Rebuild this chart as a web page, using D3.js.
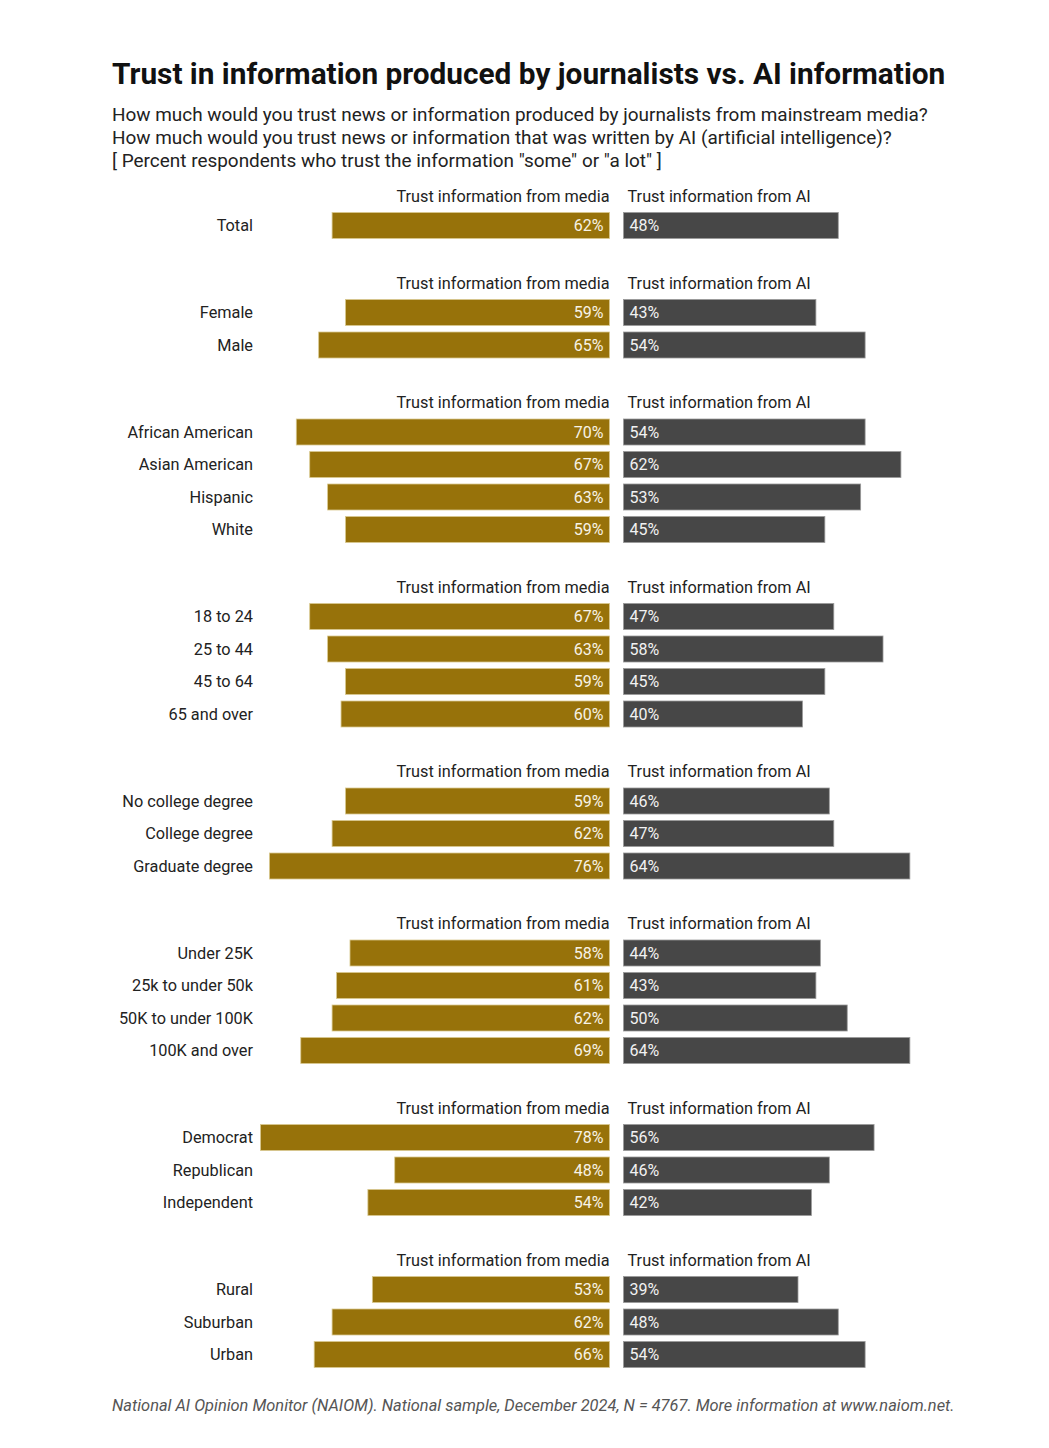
<!DOCTYPE html>
<html><head><meta charset="utf-8">
<script src="https://cdn.jsdelivr.net/npm/d3@7"></script>
<style>
html,body{margin:0;padding:0;background:#fff;}
svg{display:block;font-family:Roboto,"Noto Sans",sans-serif;}
</style></head>
<body>
<svg id="chart" width="1049" height="1448"></svg>
<script>
const groups = ["Total","Gender","Race","Age","Education","Income","Party","Community"];
const categories = [
  ["Total"],
  ["Female","Male"],
  ["African American","Asian American","Hispanic","White"],
  ["18 to 24","25 to 44","45 to 64","65 and over"],
  ["No college degree","College degree","Graduate degree"],
  ["Under 25K","25k to under 50k","50K to under 100K","100K and over"],
  ["Democrat","Republican","Independent"],
  ["Rural","Suburban","Urban"]
];
const mediaValues = [
  [62],
  [59,65],
  [70,67,63,59],
  [67,63,59,60],
  [59,62,76],
  [58,61,62,69],
  [78,48,54],
  [53,62,66]
];
const aiValues = [
  [48],
  [43,54],
  [54,62,53,45],
  [47,58,45,40],
  [46,47,64],
  [44,43,50,64],
  [56,46,42],
  [39,48,54]
];
const headerMedia = "Trust information from media";
const headerAI = "Trust information from AI";
const title = "Trust in information produced by journalists vs. AI information";
const subtitle = [
  "How much would you trust news or information produced by journalists from mainstream media?",
  "How much would you trust news or information that was written by AI (artificial intelligence)?",
  "[ Percent respondents who trust the information \"some\" or \"a lot\" ]"
];
const footer = "National AI Opinion Monitor (NAIOM). National sample, December 2024, N = 4767. More information at www.naiom.net.";

const svg = d3.select("#chart");
const GOLD = "#97720a", GREY = "#474747";

const rowStep = 32.5, groupGap = 54.5;
const rows = [];
let slot = 0;
categories.forEach((cats, gi) => {
  cats.forEach((c, ri) => {
    rows.push({group: gi, idx: ri, label: c, media: mediaValues[gi][ri], ai: aiValues[gi][ri],
               pos: slot});
    slot += rowStep;
  });
  slot += groupGap;
});
const lastPos = rows[rows.length-1].pos;
const y = d3.scaleLinear().domain([0, lastPos]).range([225.5, 225.5 + lastPos]);

const barH = 26;
const midL = 609.5, midR = 623.5;
const x = d3.scaleLinear().domain([0, 78]).range([0, 349]);

svg.append("text").attr("x", 112).attr("y", 84)
  .attr("font-size", 29.8).attr("font-weight", 700).attr("fill", "#111")
  .text(title);
subtitle.forEach((s, i) => {
  svg.append("text").attr("x", 112).attr("y", 120.5 + i * 23)
    .attr("font-size", 18.95).attr("fill", "#222").text(s);
});

categories.forEach((cats, gi) => {
  const first = rows.find(r => r.group === gi);
  const yy = y(first.pos) - 24;
  svg.append("text").attr("x", midL).attr("y", yy).attr("text-anchor", "end")
    .attr("font-size", 16.3).attr("fill", "#222").text(headerMedia);
  svg.append("text").attr("x", midR + 4).attr("y", yy)
    .attr("font-size", 16.3).attr("fill", "#222").text(headerAI);
});

const g = svg.append("g");
const row = g.selectAll("g.row").data(rows).join("g").attr("class", "row")
  .attr("transform", d => `translate(0,${y(d.pos)})`);

row.append("text").attr("x", 253).attr("y", 0).attr("dy", "0.35em")
  .attr("text-anchor", "end").attr("font-size", 16.3).attr("fill", "#222")
  .text(d => d.label);

row.append("rect").attr("x", d => midL - x(d.media)).attr("y", -barH/2)
  .attr("width", d => x(d.media)).attr("height", barH)
  .attr("fill", GOLD).attr("stroke", "#d9c98f").attr("stroke-width", 0.8);
row.append("rect").attr("x", midR).attr("y", -barH/2)
  .attr("width", d => x(d.ai)).attr("height", barH)
  .attr("fill", GREY).attr("stroke", "#9a9a9a").attr("stroke-width", 0.8);

row.append("text").attr("x", midL - 6).attr("y", 0).attr("dy", "0.35em")
  .attr("text-anchor", "end").attr("font-size", 16).attr("fill", "#f7f3e6")
  .text(d => d.media + "%");
row.append("text").attr("x", midR + 6).attr("y", 0).attr("dy", "0.35em")
  .attr("font-size", 16).attr("fill", "#f2f2f2")
  .text(d => d.ai + "%");

svg.append("text").attr("x", 112).attr("y", 1410.5)
  .attr("font-size", 16.4).attr("font-style", "italic").attr("fill", "#555")
  .text(footer);
</script>
</body></html>
